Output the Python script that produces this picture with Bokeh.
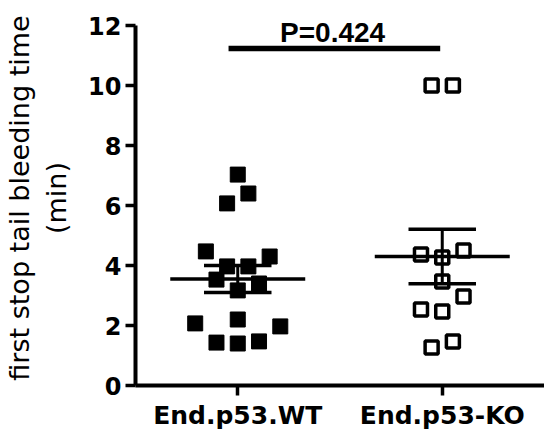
from bokeh.plotting import figure
from bokeh.models import Range1d, FixedTicker
from bokeh.embed import file_html
from bokeh.resources import INLINE
from bokeh.core.properties import value
import numpy as np

# ---- data ----
groups = ["End.p53.WT", "End.p53-KO"]
group_pos = [0.5, 1.5]
wt_values = [7.03, 6.40, 6.07, 4.47, 4.30, 3.97, 3.97, 3.53, 3.40, 3.17, 2.07, 2.20, 1.97, 1.43, 1.40, 1.47]
wt_slots = [0, 1, -1, -3, 3, -1, 1, -2, 2, 0, -4, 0, 4, -2, 0, 2]
ko_values = [10.0, 10.0, 4.37, 4.50, 4.27, 3.47, 2.97, 2.53, 2.47, 1.27, 1.47]
ko_slots = [-1, 1, -2, 2, 0, 0, 2, -2, 0, -1, 1]
y_ticks = [0, 2, 4, 6, 8, 10, 12]
p_label = "P=0.424"
y_title = "first stop tail bleeding time\n(min)"

slot_w = 0.052
mean_hw = 0.33
sem_hw = 0.165

p = figure(width=544, height=434, x_range=Range1d(0, 2), y_range=Range1d(0, 12.5),
           output_backend="svg", toolbar_location=None,
           min_border_left=131, min_border_right=0, min_border_top=10, min_border_bottom=49)
p.outline_line_color = None
p.xgrid.grid_line_color = None
p.ygrid.grid_line_color = None
p.background_fill_color = "white"

# points
wt_x = [group_pos[0] + s * slot_w for s in wt_slots]
ko_x = [group_pos[1] + s * slot_w for s in ko_slots]
p.scatter(wt_x, wt_values, marker="square", size=15, fill_color="black", line_color="black", line_width=1)
p.scatter(ko_x, ko_values, marker="square", size=13, fill_color=None, line_color="black", line_width=3.5)

# mean +/- SEM
for pos, vals in zip(group_pos, [wt_values, ko_values]):
    arr = np.array(vals)
    m = arr.mean()
    sem = arr.std(ddof=1) / np.sqrt(len(arr))
    p.segment(x0=[pos - mean_hw], y0=[m], x1=[pos + mean_hw], y1=[m], line_color="black", line_width=3.5)
    p.segment(x0=[pos - sem_hw, pos - sem_hw], y0=[m + sem, m - sem],
              x1=[pos + sem_hw, pos + sem_hw], y1=[m + sem, m - sem], line_color="black", line_width=3.5)
    p.segment(x0=[pos], y0=[m - sem], x1=[pos], y1=[m + sem], line_color="black", line_width=3)

# significance bar
p.segment(x0=[0.455], y0=[11.23], x1=[1.49], y1=[11.23], line_color="black", line_width=5.5)
p.text(x=[0.964], y=[11.78], text=[p_label], text_font=value("Liberation Sans"), text_font_style="bold",
       text_font_size="28px", text_align="center", text_baseline="alphabetic", text_color="black")

# axes
xa = p.xaxis[0]
xa.ticker = FixedTicker(ticks=group_pos)
xa.major_label_overrides = {group_pos[0]: groups[0], group_pos[1]: groups[1]}
xa.minor_tick_line_color = None
xa.axis_line_width = 4
xa.major_tick_line_width = 3.5
xa.major_tick_in = 0
xa.major_tick_out = 10
xa.major_label_standoff = 5
xa.major_label_text_font = "DejaVu Sans"
xa.major_label_text_font_style = "bold"
xa.major_label_text_font_size = "25px"
xa.major_label_text_color = "black"

ya = p.yaxis[0]
ya.ticker = FixedTicker(ticks=y_ticks)
ya.bounds = (0, 12)
ya.minor_tick_line_color = None
ya.axis_line_width = 4
ya.major_tick_line_width = 3.5
ya.major_tick_in = 0
ya.major_tick_out = 10
ya.major_label_standoff = 4
ya.major_label_text_font = "DejaVu Sans"
ya.major_label_text_font_style = "bold"
ya.major_label_text_font_size = "24px"
ya.major_label_text_color = "black"
ya.axis_label = y_title
ya.axis_label_text_font = "DejaVu Sans"
ya.axis_label_text_font_style = "normal"
ya.axis_label_text_font_size = "27px"
ya.axis_label_text_color = "black"
ya.axis_label_standoff = 13

open("out.html", "w").write(file_html(p, INLINE))
